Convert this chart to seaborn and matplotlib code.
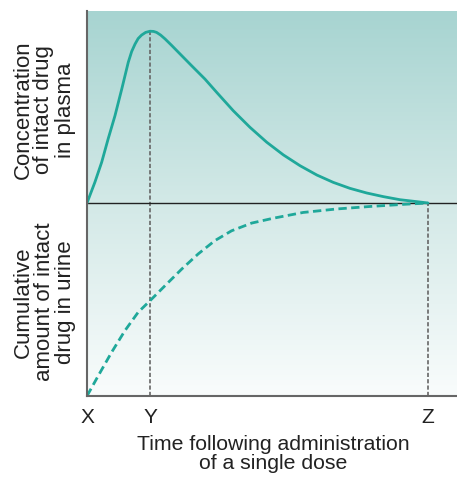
import numpy as np
import pandas as pd
import matplotlib
matplotlib.use("Agg")
import matplotlib.pyplot as plt
import seaborn as sns
from matplotlib.colors import LinearSegmentedColormap

# ---- data (normalized time: X=0, Z=1) ----
plasma_time = [0.0, 0.023, 0.043, 0.062, 0.082, 0.102, 0.121, 0.131, 0.141, 0.150, 0.160,
               0.172, 0.185, 0.195, 0.204, 0.216, 0.229, 0.248, 0.268, 0.307, 0.346,
               0.380, 0.429, 0.478, 0.527, 0.576, 0.625, 0.674, 0.722, 0.771, 0.820,
               0.869, 0.918, 0.967, 1.0]
plasma_conc = [0.0, 0.107, 0.211, 0.332, 0.452, 0.591, 0.729, 0.785, 0.824, 0.852, 0.870,
               0.884, 0.890, 0.889, 0.884, 0.870, 0.850, 0.817, 0.781, 0.711, 0.642,
               0.574, 0.478, 0.392, 0.315, 0.249, 0.193, 0.145, 0.107, 0.076, 0.052,
               0.033, 0.017, 0.007, 0.0]
urine_time = [0.0, 0.033, 0.072, 0.111, 0.150, 0.185, 0.229, 0.278, 0.326, 0.375,
              0.424, 0.483, 0.546, 0.634, 0.732, 0.830, 0.928, 1.0]
urine_amount = [0.0, 0.105, 0.226, 0.338, 0.434, 0.494, 0.572, 0.658, 0.736, 0.805,
                0.856, 0.896, 0.921, 0.951, 0.969, 0.982, 0.993, 1.0]
tick_pos = [0.0, 0.185, 1.0]
tick_labels = ["X", "Y", "Z"]
peak_value = 0.890

sns.set_theme(style="white")
plt.rcParams['font.family'] = ['Liberation Sans', 'DejaVu Sans']

teal = "#1fa89a"
gray = "#666666"
txt = "#222222"

fig = plt.figure(figsize=(4.57, 4.81), dpi=100)
ax = fig.add_axes([87/457, 84/481, 370/457, 385/481])
xmax = 370/341
ymax = 385/193
ax.set_xlim(0, xmax)
ax.set_ylim(0, ymax)

# gradient background
cmap = LinearSegmentedColormap.from_list("bg", ["#f9fcfc", "#d3e9e7", "#a7d4d1"])
grad = np.linspace(0, 1, 256).reshape(-1, 1)
ax.imshow(grad, extent=[0, xmax, 0, ymax], origin="lower", aspect="auto",
          cmap=cmap, zorder=0)

df_p = pd.DataFrame({"t": plasma_time, "v": [1 + c for c in plasma_conc]})
df_u = pd.DataFrame({"t": urine_time, "v": urine_amount})
sns.lineplot(data=df_p, x="t", y="v", ax=ax, color=teal, lw=2.0, sort=False, zorder=4)
sns.lineplot(data=df_u, x="t", y="v", ax=ax, color=teal, lw=2.0, sort=False, zorder=4)
ax.lines[0].set_solid_joinstyle("round")
ax.lines[-1].set_dashes((3.0, 1.6))
ax.lines[-1].set_dash_capstyle("butt")

# baseline
ax.axhline(1.0, color="#222222", lw=1.0, zorder=3)
# vertical dashed guides
ax.vlines(tick_pos[1], 0, 1 + peak_value, colors=gray, lw=1.2,
          linestyles=(0, (2.5, 1.3)), zorder=2)
ax.vlines(tick_pos[2], 0, 1.0, colors=gray, lw=1.2,
          linestyles=(0, (2.5, 1.3)), zorder=2)

for s in ["top", "right"]:
    ax.spines[s].set_visible(False)
for s in ["left", "bottom"]:
    ax.spines[s].set_color("#666666")
    ax.spines[s].set_linewidth(1.5)
    ax.spines[s].set_zorder(5)

ax.set_yticks([])
ax.set_xticks(tick_pos)
ax.set_xticklabels(tick_labels, fontsize=15, color=txt)
ax.tick_params(axis="x", length=0, pad=8)
ax.set_xlabel("")
ax.set_ylabel("")

fig.text(273/457, 1 - 454/481, "Time following administration\nof a single dose",
         ha="center", va="center", fontsize=15.3, color=txt, linespacing=1.03,
         multialignment="center")
fig.text(44/457, 1 - 110/481, "Concentration\nof intact drug\nin plasma", rotation=90,
         ha="center", va="center", fontsize=16, color=txt, linespacing=1.0,
         multialignment="center")
fig.text(44/457, 1 - 302/481, "Cumulative\namount of intact\ndrug in urine", rotation=90,
         ha="center", va="center", fontsize=16, color=txt, linespacing=1.0,
         multialignment="center")

fig.savefig("out.png", dpi=100, facecolor="white")
